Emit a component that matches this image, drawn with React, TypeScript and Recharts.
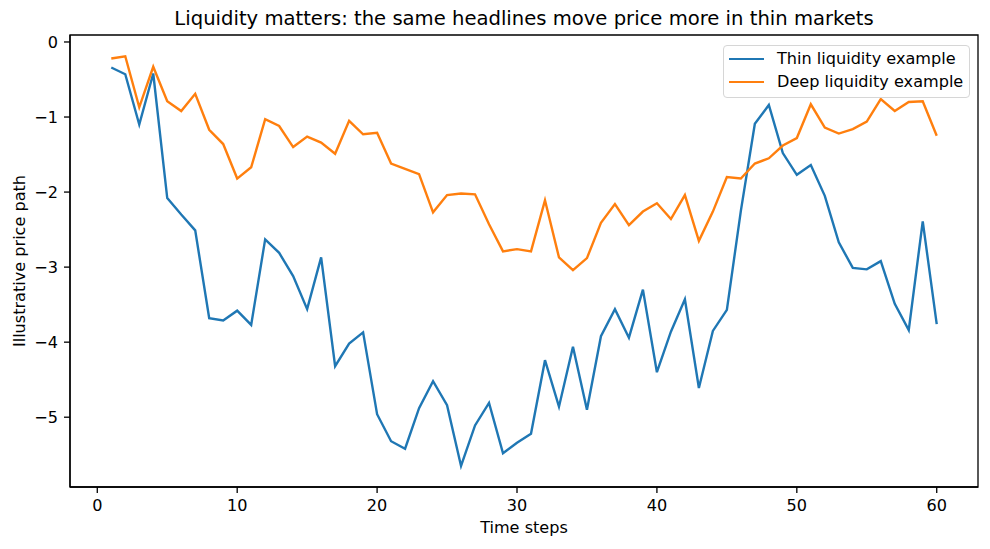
import { LineChart, Line, XAxis, YAxis, ReferenceArea } from 'recharts';

const steps = [
  1, 2, 3, 4, 5, 6, 7, 8, 9, 10,
  11, 12, 13, 14, 15, 16, 17, 18, 19, 20,
  21, 22, 23, 24, 25, 26, 27, 28, 29, 30,
  31, 32, 33, 34, 35, 36, 37, 38, 39, 40,
  41, 42, 43, 44, 45, 46, 47, 48, 49, 50,
  51, 52, 53, 54, 55, 56, 57, 58, 59, 60,
];

const thinPath = [
  -0.34, -0.43, -1.10, -0.42, -2.08, -2.30, -2.51, -3.68, -3.71, -3.58,
  -3.77, -2.63, -2.81, -3.12, -3.56, -2.87, -4.32, -4.02, -3.87, -4.96,
  -5.32, -5.42, -4.88, -4.52, -4.84, -5.65, -5.11, -4.81, -5.48, -5.34,
  -5.22, -4.24, -4.86, -4.06, -4.90, -3.92, -3.56, -3.94, -3.30, -4.40,
  -3.86, -3.43, -4.61, -3.85, -3.57, -2.25, -1.09, -0.84, -1.48, -1.77,
  -1.64, -2.05, -2.67, -3.01, -3.03, -2.92, -3.49, -3.84, -2.39, -3.76,
];

const deepPath = [
  -0.22, -0.19, -0.87, -0.33, -0.79, -0.92, -0.69, -1.17, -1.36, -1.82,
  -1.67, -1.03, -1.12, -1.40, -1.26, -1.34, -1.49, -1.05, -1.23, -1.21,
  -1.62, -1.69, -1.76, -2.27, -2.04, -2.02, -2.03, -2.43, -2.79, -2.76,
  -2.79, -2.11, -2.87, -3.04, -2.88, -2.41, -2.16, -2.44, -2.26, -2.15,
  -2.36, -2.04, -2.65, -2.26, -1.80, -1.82, -1.62, -1.55, -1.38, -1.28,
  -0.83, -1.14, -1.22, -1.16, -1.06, -0.76, -0.92, -0.80, -0.79, -1.25,
];

const xTicks = [0, 10, 20, 30, 40, 50, 60];
const yTicks = [-5, -4, -3, -2, -1, 0];

const xDomain = [-1.95, 62.95];
const yDomain = [-5.93, 0.093];

const seriesInfo = [
  { key: 'thin', name: 'Thin liquidity example', color: '#1f77b4' },
  { key: 'deep', name: 'Deep liquidity example', color: '#ff7f0e' },
];

const data = steps.map((t, i) => ({ t, thin: thinPath[i], deep: deepPath[i] }));

const font = '"DejaVu Sans", sans-serif';
const fs = 16.1;
const minus = (v: number) => String(v).replace('-', '\u2212');

const LegendBox = () => (
  <div
    style={{
      position: 'absolute',
      left: 723,
      top: 45,
      width: 247,
      height: 53,
      border: '1px solid #d6d6d6',
      borderRadius: 4,
      background: 'rgba(255,255,255,0.8)',
      fontSize: fs,
      color: '#000',
      boxSizing: 'border-box',
      paddingTop: 1,
    }}
  >
    {seriesInfo.map(s => (
      <div key={s.key} style={{ display: 'flex', alignItems: 'center', height: 23.5 }}>
        <div style={{ width: 35, height: 2.4, background: s.color, marginLeft: 5, marginRight: 13 }} />
        <span style={{ lineHeight: 1 }}>{s.name}</span>
      </div>
    ))}
  </div>
);

const App = () => {
  return (
    <div style={{ position: 'absolute', left: 0, top: 0, width: 990, height: 549, background: '#fff', fontFamily: font }}>
      <LineChart width={990} height={549} data={data} margin={{ top: 35, right: 12, bottom: 0, left: 0 }}>
        <XAxis
          dataKey="t"
          type="number"
          domain={xDomain}
          ticks={xTicks}
          height={62}
          allowDataOverflow
          tickSize={6}
          tickMargin={7}
          stroke="#000"
          strokeWidth={1.3}
          tick={{ fill: '#000', fontSize: fs, fontFamily: font }}
        />
        <YAxis
          type="number"
          domain={yDomain}
          ticks={yTicks}
          width={70}
          allowDataOverflow
          tickSize={6}
          tickMargin={6}
          stroke="#000"
          strokeWidth={1.3}
          tickFormatter={minus}
          tick={{ fill: '#000', fontSize: fs, fontFamily: font }}
        />
        <ReferenceArea x1={xDomain[0]} x2={xDomain[1]} y1={yDomain[0]} y2={yDomain[1]} fill="none" stroke="#000" strokeWidth={1.3} />
        {seriesInfo.map(s => (
          <Line
            key={s.key}
            dataKey={s.key}
            name={s.name}
            stroke={s.color}
            strokeWidth={2.4}
            dot={false}
            activeDot={false}
            isAnimationActive={false}
          />
        ))}
      </LineChart>
      <div style={{ position: 'absolute', top: 7, left: 70, width: 908, textAlign: 'center', fontSize: 19.6, color: '#000' }}>
        Liquidity matters: the same headlines move price more in thin markets
      </div>
      <div
        style={{
          position: 'absolute',
          left: 19,
          top: 261,
          transform: 'translate(-50%, -50%) rotate(-90deg)',
          whiteSpace: 'nowrap',
          fontSize: fs,
          color: '#000',
        }}
      >
        Illustrative price path
      </div>
      <div style={{ position: 'absolute', top: 518, left: 70, width: 908, textAlign: 'center', fontSize: fs, color: '#000' }}>
        Time steps
      </div>
      <LegendBox />
    </div>
  );
};

export default App;
